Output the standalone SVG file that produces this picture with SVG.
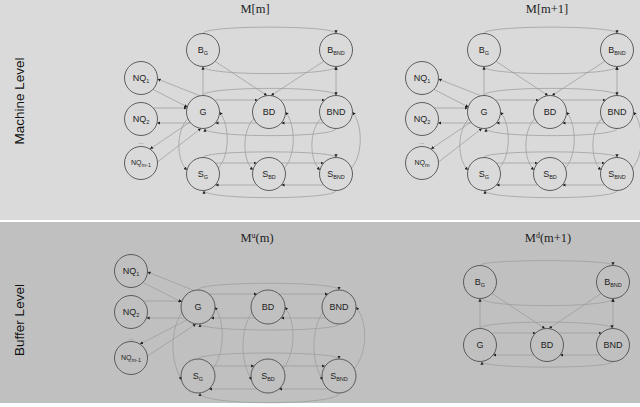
<svg xmlns="http://www.w3.org/2000/svg" width="640" height="407" viewBox="0 0 640 407">
<defs>
<marker id="ah" viewBox="0 0 4 4" refX="4" refY="2" markerWidth="3.2" markerHeight="3.2" markerUnits="userSpaceOnUse" orient="auto"><path d="M0,0 L4,2 L0,4 z" fill="#222"/></marker>
<style>
.e{fill:none;stroke:#9c9c9c;stroke-width:0.75;marker-end:url(#ah)}
.n circle{fill:none;stroke:#4f4f4f;stroke-width:0.9}
.l{font-family:"Liberation Sans",Arial,sans-serif;font-size:9px;fill:#222;text-anchor:middle}
.s{font-size:5.5px}
.d{font-family:"Liberation Sans",Arial,sans-serif;font-size:6px;fill:#555;text-anchor:middle}
.t{font-family:"Liberation Serif","Times New Roman",serif;font-size:12.5px;fill:#222;text-anchor:middle}
.side{font-family:"Liberation Sans",Arial,sans-serif;font-size:13.5px;fill:#111;text-anchor:middle}
</style>
</defs>
<rect x="0" y="0" width="640" height="220" fill="#dadada"/>
<rect x="0" y="222" width="640" height="181" fill="#c0c0c0"/>
<text class="side" transform="translate(24,101) rotate(-90)">Machine Level</text>
<text class="side" transform="translate(24,320) rotate(-90)">Buffer Level</text>

<!-- ===== Top-left M[m] ===== -->
<g id="Mm">
<text class="t" x="255" y="13">M[m]</text>
<g id="Mm-edges">
<path class="e" d="M203,33.5 C203,25 336,25 336,33.5"/>
<path class="e" d="M203,66.5 C203,76 336,76 336,66.5"/>
<path class="e" d="M203,95.5 L203,66.5"/>
<path class="e" d="M336,95.5 L336,66.5"/>
<path class="e" d="M215,61.3 L267,95.5"/>
<path class="e" d="M323.9,61.2 L271,95.5"/>
<path class="e" d="M203,95.5 C203,86 336,86 336,95.5"/>
<path class="e" d="M214.3,100 L257.7,100"/>
<path class="e" d="M280.3,100 L324.7,100"/>
<path class="e" d="M323.7,123 L281.3,123"/>
<path class="e" d="M256.7,123 L215.3,123"/>
<path class="e" d="M336,128.5 C336,138 205,138 205,128.5"/>
<path class="e" d="M190.7,123 L157,123"/>
<path class="e" d="M153.3,108 L187,108"/>
<path class="e" d="M200,95.8 L157.5,79"/>
<path class="e" d="M153,89.5 L187.5,107"/>
<path class="e" d="M190,122 L150,149"/>
<path class="e" d="M157.5,162 L201,128.4"/>
<path class="e" d="M203,157.5 C203,150 336,150 336,157.5"/>
<path class="e" d="M215.3,163 L256.7,163"/>
<path class="e" d="M281.3,163 L323.7,163"/>
<path class="e" d="M323.7,185 L281.3,185"/>
<path class="e" d="M256.7,185 L215.3,185"/>
<path class="e" d="M336,190.5 C336,200 204,200 204,190.5"/>
<path class="e" d="M188,118.5 C176,130 176,160 187,170"/>
<path class="e" d="M218.5,168 C230,155 230,125 219.5,112"/>
<path class="e" d="M254,118.5 C242,130 242,160 253,170"/>
<path class="e" d="M284.5,168 C296,155 296,125 285.5,112"/>
<path class="e" d="M321,118.5 C309,130 309,160 320,170"/>
<path class="e" d="M351.5,168 C363,155 363,125 352.5,112"/>
</g>
<g id="Mm-BG" class="n"><circle cx="203" cy="50" r="16.5"/><text class="l" x="203" y="53">B<tspan class="s" dy="1.5">G</tspan></text></g>
<g id="Mm-BBND" class="n"><circle cx="336" cy="50" r="16.5"/><text class="l" x="336" y="53">B<tspan class="s" dy="1.5">BND</tspan></text></g>
<g id="Mm-NQ1" class="n"><circle cx="141" cy="78" r="16.5"/><text class="l" x="141" y="81">NQ<tspan class="s" dy="1.5">1</tspan></text></g>
<g id="Mm-NQ2" class="n"><circle cx="141" cy="119" r="16.5"/><text class="l" x="141" y="122">NQ<tspan class="s" dy="1.5">2</tspan></text></g>
<text class="d" x="141" y="144">...</text>
<g id="Mm-NQm1" class="n"><circle cx="141" cy="163" r="16.5"/><text class="l" x="141" y="165" style="font-size:7px">NQ<tspan class="s" dy="1.5">m-1</tspan></text></g>
<g id="Mm-G" class="n"><circle cx="203" cy="112" r="16.5"/><text class="l" x="203" y="115">G</text></g>
<g id="Mm-BD" class="n"><circle cx="269" cy="112" r="16.5"/><text class="l" x="269" y="115">BD</text></g>
<g id="Mm-BND" class="n"><circle cx="336" cy="112" r="16.5"/><text class="l" x="336" y="115">BND</text></g>
<g id="Mm-SG" class="n"><circle cx="203" cy="174" r="16.5"/><text class="l" x="203" y="177">S<tspan class="s" dy="1.5">G</tspan></text></g>
<g id="Mm-SBD" class="n"><circle cx="269" cy="174" r="16.5"/><text class="l" x="269" y="177">S<tspan class="s" dy="1.5">BD</tspan></text></g>
<g id="Mm-SBND" class="n"><circle cx="336" cy="174" r="16.5"/><text class="l" x="336" y="177">S<tspan class="s" dy="1.5">BND</tspan></text></g>
</g>

<!-- ===== Top-right M[m+1] ===== -->
<g id="Mm1" transform="translate(281,0)">
<text class="t" x="266" y="13">M[m+1]</text>
<g id="Mm1-edges">
<path class="e" d="M203,33.5 C203,25 336,25 336,33.5"/>
<path class="e" d="M203,66.5 C203,76 336,76 336,66.5"/>
<path class="e" d="M203,95.5 L203,66.5"/>
<path class="e" d="M336,95.5 L336,66.5"/>
<path class="e" d="M215,61.3 L267,95.5"/>
<path class="e" d="M323.9,61.2 L271,95.5"/>
<path class="e" d="M203,95.5 C203,86 336,86 336,95.5"/>
<path class="e" d="M214.3,100 L257.7,100"/>
<path class="e" d="M280.3,100 L324.7,100"/>
<path class="e" d="M323.7,123 L281.3,123"/>
<path class="e" d="M256.7,123 L215.3,123"/>
<path class="e" d="M336,128.5 C336,138 205,138 205,128.5"/>
<path class="e" d="M190.7,123 L157,123"/>
<path class="e" d="M153.3,108 L187,108"/>
<path class="e" d="M200,95.8 L157.5,79"/>
<path class="e" d="M153,89.5 L187.5,107"/>
<path class="e" d="M190,122 L150,149"/>
<path class="e" d="M157.5,162 L201,128.4"/>
<path class="e" d="M203,157.5 C203,150 336,150 336,157.5"/>
<path class="e" d="M215.3,163 L256.7,163"/>
<path class="e" d="M281.3,163 L323.7,163"/>
<path class="e" d="M323.7,185 L281.3,185"/>
<path class="e" d="M256.7,185 L215.3,185"/>
<path class="e" d="M336,190.5 C336,200 204,200 204,190.5"/>
<path class="e" d="M188,118.5 C176,130 176,160 187,170"/>
<path class="e" d="M218.5,168 C230,155 230,125 219.5,112"/>
<path class="e" d="M254,118.5 C242,130 242,160 253,170"/>
<path class="e" d="M284.5,168 C296,155 296,125 285.5,112"/>
<path class="e" d="M321,118.5 C309,130 309,160 320,170"/>
<path class="e" d="M351.5,168 C363,155 363,125 352.5,112"/>
</g>
<g id="Mm1-BG" class="n"><circle cx="203" cy="50" r="16.5"/><text class="l" x="203" y="53">B<tspan class="s" dy="1.5">G</tspan></text></g>
<g id="Mm1-BBND" class="n"><circle cx="336" cy="50" r="16.5"/><text class="l" x="336" y="53">B<tspan class="s" dy="1.5">BND</tspan></text></g>
<g id="Mm1-NQ1" class="n"><circle cx="141" cy="78" r="16.5"/><text class="l" x="141" y="81">NQ<tspan class="s" dy="1.5">1</tspan></text></g>
<g id="Mm1-NQ2" class="n"><circle cx="141" cy="119" r="16.5"/><text class="l" x="141" y="122">NQ<tspan class="s" dy="1.5">2</tspan></text></g>
<text class="d" x="141" y="144">...</text>
<g id="Mm1-NQm" class="n"><circle cx="141" cy="163" r="16.5"/><text class="l" x="141" y="165" style="font-size:7px">NQ<tspan class="s" dy="1.5">m</tspan></text></g>
<g id="Mm1-G" class="n"><circle cx="203" cy="112" r="16.5"/><text class="l" x="203" y="115">G</text></g>
<g id="Mm1-BD" class="n"><circle cx="269" cy="112" r="16.5"/><text class="l" x="269" y="115">BD</text></g>
<g id="Mm1-BND" class="n"><circle cx="336" cy="112" r="16.5"/><text class="l" x="336" y="115">BND</text></g>
<g id="Mm1-SG" class="n"><circle cx="203" cy="174" r="16.5"/><text class="l" x="203" y="177">S<tspan class="s" dy="1.5">G</tspan></text></g>
<g id="Mm1-SBD" class="n"><circle cx="269" cy="174" r="16.5"/><text class="l" x="269" y="177">S<tspan class="s" dy="1.5">BD</tspan></text></g>
<g id="Mm1-SBND" class="n"><circle cx="336" cy="174" r="16.5"/><text class="l" x="336" y="177">S<tspan class="s" dy="1.5">BND</tspan></text></g>
</g>

<!-- ===== Bottom-left Mu(m) ===== -->
<g id="Mu">
<text class="t" x="257" y="242">M<tspan font-size="8" dy="-4.5">u</tspan><tspan dy="4.5">(m)</tspan></text>
<g id="Mu-edges">
<path class="e" d="M198,290 C198,281 339,281 339,290"/>
<path class="e" d="M209,294 L257,294"/>
<path class="e" d="M279,294 L328,294"/>
<path class="e" d="M326,318 L281,318"/>
<path class="e" d="M255,318 L211,318"/>
<path class="e" d="M185,318 L146.4,318"/>
<path class="e" d="M143.3,301 L182,301"/>
<path class="e" d="M339,324 C339,332 200,332 200,324"/>
<path class="e" d="M194,290.5 L147.5,272"/>
<path class="e" d="M143,282.5 L181.5,302"/>
<path class="e" d="M187,320 L140,344"/>
<path class="e" d="M147.5,356 L196,324"/>
<path class="e" d="M198,359 C198,351 339,351 339,359"/>
<path class="e" d="M211.75,366 L254.25,366"/>
<path class="e" d="M281.75,366 L325.25,366"/>
<path class="e" d="M328,389 L279,389"/>
<path class="e" d="M257,389 L209,389"/>
<path class="e" d="M339,393 C339,406 200,406 200,393"/>
<path class="e" d="M182,312 C170,330 170,360 181.5,380"/>
<path class="e" d="M213,369 C225,352 225,322 215,307"/>
<path class="e" d="M252,312 C240,330 240,360 251.5,380"/>
<path class="e" d="M283,369 C296,352 296,322 285,307"/>
<path class="e" d="M323,312 C311,330 311,360 322.5,380"/>
<path class="e" d="M354,369 C368,352 368,322 356,307"/>
</g>
<g id="Mu-NQ1" class="n"><circle cx="131" cy="271" r="16.5"/><text class="l" x="131" y="274">NQ<tspan class="s" dy="1.5">1</tspan></text></g>
<g id="Mu-NQ2" class="n"><circle cx="131" cy="312" r="16.5"/><text class="l" x="131" y="315">NQ<tspan class="s" dy="1.5">2</tspan></text></g>
<text class="d" x="131" y="340">...</text>
<g id="Mu-NQm1" class="n"><circle cx="131" cy="358" r="16.5"/><text class="l" x="131" y="360" style="font-size:7px">NQ<tspan class="s" dy="1.5">m-1</tspan></text></g>
<g id="Mu-G" class="n"><circle cx="198" cy="307" r="17"/><text class="l" x="198" y="310">G</text></g>
<g id="Mu-BD" class="n"><circle cx="268" cy="307" r="17"/><text class="l" x="268" y="310">BD</text></g>
<g id="Mu-BND" class="n"><circle cx="339" cy="307" r="17"/><text class="l" x="339" y="310">BND</text></g>
<g id="Mu-SG" class="n"><circle cx="198" cy="376" r="17"/><text class="l" x="198" y="379">S<tspan class="s" dy="1.5">G</tspan></text></g>
<g id="Mu-SBD" class="n"><circle cx="268" cy="376" r="17"/><text class="l" x="268" y="379">S<tspan class="s" dy="1.5">BD</tspan></text></g>
<g id="Mu-SBND" class="n"><circle cx="339" cy="376" r="17"/><text class="l" x="339" y="379">S<tspan class="s" dy="1.5">BND</tspan></text></g>
</g>

<!-- ===== Bottom-right Md(m+1) ===== -->
<g id="Md">
<text class="t" x="548" y="242">M<tspan font-size="8" dy="-4.5">d</tspan><tspan dy="4.5">(m+1)</tspan></text>
<g id="Md-edges">
<path class="e" d="M480,265.5 C480,259 613,259 613,265.5"/>
<path class="e" d="M482,298.5 C482,308 613,308 613,298.5"/>
<path class="e" d="M480,328.5 L480,298.5"/>
<path class="e" d="M613,328.5 L613,298.5"/>
<path class="e" d="M492,293.5 L545,328.5"/>
<path class="e" d="M601,293.5 L549,328.5"/>
<path class="e" d="M480,328.5 C480,320 612,320 612,328.5"/>
<path class="e" d="M491.3,333 L535.7,333"/>
<path class="e" d="M558.3,333 L601.7,333"/>
<path class="e" d="M599.9,355 L560.1,355"/>
<path class="e" d="M533.9,355 L493.1,355"/>
<path class="e" d="M613,361.5 C613,369 482,369 482,361.5"/>
</g>
<g id="Md-BG" class="n"><circle cx="480" cy="282" r="16.5"/><text class="l" x="480" y="285">B<tspan class="s" dy="1.5">G</tspan></text></g>
<g id="Md-BBND" class="n"><circle cx="613" cy="282" r="16.5"/><text class="l" x="613" y="285">B<tspan class="s" dy="1.5">BND</tspan></text></g>
<g id="Md-G" class="n"><circle cx="480" cy="345" r="16.5"/><text class="l" x="480" y="348">G</text></g>
<g id="Md-BD" class="n"><circle cx="547" cy="345" r="16.5"/><text class="l" x="547" y="348">BD</text></g>
<g id="Md-BND" class="n"><circle cx="613" cy="345" r="16.5"/><text class="l" x="613" y="348">BND</text></g>
</g>
</svg>
